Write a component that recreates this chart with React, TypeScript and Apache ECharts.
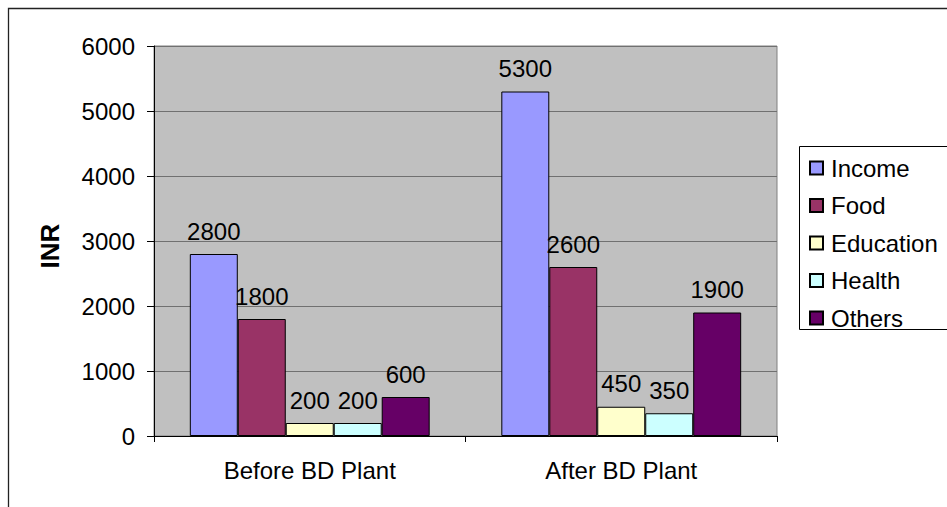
import React, { useEffect, useRef } from "react";
import * as echarts from "echarts";

const categories = ["Before BD Plant", "After BD Plant"];
const seriesNames = ["Income", "Food", "Education", "Health", "Others"];
const income = [2800, 5300];
const food = [1800, 2600];
const education = [200, 450];
const health = [200, 350];
const others = [600, 1900];
const seriesColors = ["#9999FF", "#993366", "#FFFFCC", "#CCFFFF", "#660066"];
const yTicks = { min: 0, max: 6000, interval: 1000 };

const FONT = "'Liberation Sans', Arial, sans-serif";

export default function App() {
  const ref = useRef<HTMLDivElement>(null);
  useEffect(() => {
    if (!ref.current) return;
    const chart = echarts.init(ref.current, undefined, { renderer: "svg" });
    const values = [income, food, education, health, others];
    chart.setOption({
      animation: false,
      backgroundColor: "#FFFFFF",
      textStyle: { fontFamily: FONT },
      grid: {
        left: 154,
        top: 46,
        width: 623,
        height: 390,
        show: true,
        backgroundColor: "#C0C0C0",
        borderColor: "#808080",
        borderWidth: 1,
      },
      xAxis: {
        type: "category",
        data: categories,
        axisLine: { show: true, lineStyle: { color: "#000", width: 1 } },
        axisTick: { show: true, length: 6, inside: false, lineStyle: { color: "#000" } },
        axisLabel: { color: "#000", fontSize: 24, fontFamily: FONT, margin: 22 },
        splitLine: { show: false },
      },
      yAxis: {
        type: "value",
        min: yTicks.min,
        max: yTicks.max,
        interval: yTicks.interval,
        axisLine: { show: true, lineStyle: { color: "#000", width: 1 } },
        axisTick: { show: true, length: 7, inside: false, lineStyle: { color: "#000" } },
        axisLabel: {
          color: "#000",
          fontSize: 24,
          fontFamily: FONT,
          margin: 19,
          formatter: (v: number) => String(v),
        },
        splitLine: { show: true, lineStyle: { color: "#707070", width: 1 } },
      },
      legend: {
        orient: "vertical",
        left: 804,
        top: 151,
        itemWidth: 13,
        itemHeight: 13,
        itemGap: 13.5,
        icon: "rect",
        textStyle: { color: "#000", fontSize: 24, fontFamily: FONT, padding: [0, 0, 0, 3] },
        data: seriesNames,
      },
      graphic: [
        {
          type: "polyline",
          shape: { points: [[8.5, 600], [8.5, 8.5], [1000, 8.5]] },
          style: { fill: "none", stroke: "#222", lineWidth: 1.3 },
          silent: true,
          z: 0,
        },
        {
          type: "polyline",
          shape: { points: [[1000, 146.5], [799.5, 146.5], [799.5, 329.5], [1000, 329.5]] },
          style: { fill: "none", stroke: "#000", lineWidth: 1 },
          silent: true,
          z: 0,
        },
        {
          type: "text",
          x: 50,
          y: 246,
          rotation: Math.PI / 2,
          style: {
            text: "INR",
            fontSize: 26,
            fontWeight: "bold",
            fontFamily: FONT,
            fill: "#000",
            align: "center",
            verticalAlign: "middle",
          },
          silent: true,
        },
      ],
      series: seriesNames.map((name, i) => ({
        name,
        type: "bar",
        data: values[i],
        barGap: "0%",
        barCategoryGap: "23%",
        itemStyle: { color: seriesColors[i], borderColor: "#000", borderWidth: 1 },
        label: {
          show: true,
          position: "top",
          distance: 11,
          color: "#000",
          fontSize: 24,
          fontFamily: FONT,
        },
      })),
    });
    return () => chart.dispose();
  }, []);
  return (
    <div
      ref={ref}
      style={{ position: "fixed", left: 0, top: 0, width: 947, height: 507 }}
    />
  );
}
